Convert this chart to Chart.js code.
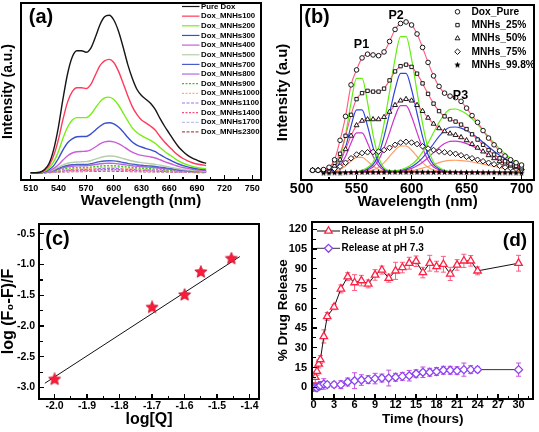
<!DOCTYPE html>
<html><head><meta charset="utf-8">
<script src="https://cdn.jsdelivr.net/npm/chart.js@4.4.1/dist/chart.umd.min.js"></script>
<style>
html,body{margin:0;padding:0;background:#fff;}
body{width:539px;height:432px;position:relative;overflow:hidden;}
canvas{position:absolute;display:block;}
</style></head><body>
<canvas id="ca" width="270" height="216" style="left:0;top:0;width:270px;height:216px"></canvas>
<canvas id="cb" width="269" height="216" style="left:270px;top:0;width:269px;height:216px"></canvas>
<canvas id="cc" width="270" height="216" style="left:0;top:216px;width:270px;height:216px"></canvas>
<canvas id="cd" width="269" height="216" style="left:270px;top:216px;width:269px;height:216px"></canvas>
<script>
// ---------------- DATA ----------------
// (a) emission spectra, wavelength (nm)
const wlA = [510,515,520,525,530,535,540,545,550,555,560,565,570,575,580,585,590,595,600,605,610,615,620,625,630,635,640,645,650,655,660,665,670,675,680,685,690,695,700];
const pureDox  = [0,0,0.3,2,6,15,29,47,63,73.5,77.5,77.5,76.5,79,86,94,99,100,97,90,80,69,60,53,49,46.5,44,40,34.5,29.5,25,20.5,16.5,13.5,11,9.3,8,6.8,6];
const mnhs100  = [0,0,0.2,1.5,4.5,11,21,34,45,51.5,54,54,53.5,56,62,68,71,72,70,64.5,57,49,42,37,33.5,31.5,29.5,27,23,19.5,16.5,13.5,11,9,7.5,6.3,5.5,5,4.5];
const mnhs200  = [0,0,0.1,1,3,7,13.5,22,29,33.5,35,35,35,37,41,45,47.5,48,46.5,43,38,33,28.5,25.5,23.5,22,20.5,18.5,16,13.5,11.5,9.5,7.5,6,5,4,3.3,2.8,2.5];
const mnhs300  = [0,0,0,0.6,2,4.5,9,14.5,19,21.5,22.8,23,23,24.5,27,29.5,31.3,31.7,31,29,26,22.5,19.5,17.5,16.3,15.3,14.5,13.3,11.5,9.8,8.3,6.8,5.5,4.5,3.7,3,2.5,2.1,1.8];
const mnhs400  = [0,0,0,0.4,1.2,2.7,5,8,10.8,12.5,13.3,13.5,13.6,14.5,16.3,18.3,19.6,20,19.6,18.5,16.8,14.8,13,11.8,11,10.5,10,9.3,8.2,7,6,5,4,3.3,2.7,2.2,1.8,1.5,1.3];
const mnhs500  = [0,0,0,0.3,1,2,3.5,5,6,6.5,6.8,6.9,7,7.6,8.6,9.6,10.3,10.6,10.4,9.8,9,8.2,7.4,6.8,6.4,6,5.7,5.3,4.8,4.2,3.6,3,2.5,2,1.7,1.4,1.2,1,0.9];
const mnhs700  = [0,0,0,0.2,0.8,1.6,2.7,3.8,4.6,5,5.2,5.3,5.3,5.7,6.4,7,7.4,7.6,7.5,7.1,6.5,5.9,5.4,5,4.7,4.4,4.2,3.9,3.5,3.1,2.7,2.3,1.9,1.6,1.3,1.1,0.9,0.8,0.7];
const mnhs800  = [0,0,0,0.2,0.6,1.3,2.2,3.1,3.8,4.1,4.3,4.4,4.4,4.7,5.2,5.7,5.9,6,5.9,5.6,5.2,4.8,4.4,4.1,3.8,3.6,3.4,3.1,2.8,2.5,2.2,1.9,1.6,1.3,1.1,0.9,0.8,0.7,0.6];
const mnhs900  = [0,0,0,0.1,0.4,1,1.6,2.3,2.8,3.1,3.2,3.3,3.3,3.5,3.9,4.2,4.4,4.5,4.4,4.2,3.9,3.6,3.3,3.1,2.9,2.7,2.5,2.3,2.1,1.9,1.7,1.4,1.2,1,0.8,0.7,0.6,0.5,0.5];
const mnhs1000 = [0,0,0,0.1,0.3,0.8,1.3,1.8,2.2,2.4,2.5,2.6,2.6,2.7,3,3.3,3.4,3.5,3.4,3.3,3,2.8,2.6,2.4,2.3,2.1,2,1.8,1.6,1.5,1.3,1.1,0.9,0.8,0.7,0.6,0.5,0.4,0.4];
const mnhs1100 = [0,0,0,0.1,0.3,0.6,1,1.4,1.7,1.9,2,2,2.1,2.2,2.4,2.6,2.7,2.8,2.7,2.6,2.4,2.2,2.1,1.9,1.8,1.7,1.6,1.4,1.3,1.2,1,0.9,0.7,0.6,0.5,0.5,0.4,0.3,0.3];
const mnhs1400 = [0,0,0,0.1,0.2,0.4,0.7,1,1.2,1.4,1.4,1.5,1.5,1.6,1.7,1.9,2,2,2,1.9,1.7,1.6,1.5,1.4,1.3,1.2,1.1,1,0.9,0.8,0.7,0.6,0.5,0.5,0.4,0.3,0.3,0.2,0.2];
const mnhs1700 = [0,0,0,0,0.1,0.3,0.5,0.7,0.9,1,1.1,1.1,1.1,1.2,1.3,1.4,1.5,1.5,1.5,1.4,1.3,1.2,1.1,1,1,0.9,0.8,0.8,0.7,0.6,0.5,0.5,0.4,0.3,0.3,0.2,0.2,0.2,0.1];
const mnhs2300 = [0,0,0,0,0.1,0.2,0.3,0.5,0.6,0.7,0.7,0.7,0.8,0.8,0.9,0.9,1,1,1,0.9,0.9,0.8,0.7,0.7,0.6,0.6,0.5,0.5,0.5,0.4,0.4,0.3,0.3,0.2,0.2,0.2,0.1,0.1,0.1];
const namesA = ['Pure Dox','Dox_MNHs100','Dox_MNHs200','Dox_MNHs300','Dox_MNHs400','Dox_MNHs500','Dox_MNHs700','Dox_MNHs800','Dox_MNHs900','Dox_MNHs1000','Dox_MNHs1100','Dox_MNHs1400','Dox_MNHs1700','Dox_MNHs2300'];
const ticksA = [510,540,570,600,630,660,690,720,750];

// (b) deconvoluted spectra
const wlB = [510,515,520,525,530,535,540,545,550,555,560,565,570,575,580,585,590,595,600,605,610,615,620,625,630,635,640,645,650,655,660,665,670,675,680,685,690,695,700];
const doxPure = [1,1,1.5,3,8,21,37,58,68,76,78.5,78,77.5,80,87,95,99,100,98,92,83,73,64,57,52.5,50.5,49.5,47,42.5,37.5,33,27.5,22.5,18,14,10.5,8,6,4.5];
const mnhs25  = [1,1,1.2,2.5,6,12,24,38,48.5,52.5,54,53.5,53.5,55.5,61,67,70.5,71.5,70,65.5,59,52,45.5,40.5,37,35,33.5,31.5,28.5,25,21.5,18,14.5,11.5,9,7,5,4,3];
const mnhs50  = [1,1,1,2,4,8,15,24,31,34,35,35,35,36.5,40,44.5,47.5,48.5,47.5,44.5,40.5,36,32,29,27,25.5,24.5,23,21,18.5,16,13.5,11,9,7,5.5,4,3,2];
const mnhs75  = [1,1,1,1.2,2,3.5,6,9,11.5,12.5,13,13.2,13.5,14.5,16,18,19.5,20,19.5,18.5,17,15.5,14.5,13.5,13,12.5,12,11,10,9,8,7,6,5,4,3,2.5,2,1.5];
const mnhs998 = [null,null,-0.8,-0.8,-0.7,-0.8,-0.6,-0.5,-0.5,-0.4,-0.4,-0.4,-0.4,-0.4,-0.3,-0.3,-0.3,-0.3,-0.3,-0.3,-0.3,-0.4,-0.4,-0.4,-0.4,-0.4,-0.4,-0.5,-0.5,-0.5,-0.5,-0.6,-0.6,-0.6,-0.7,-0.7,-0.7,-0.8,-0.8];
const namesB = ['Dox_Pure','MNHs_25%','MNHs_50%','MNHs_75%','MNHs_99.8%'];
// fitted component peaks P1, P2, P3
const compWl = [520,525,530,535,540,545,550,555,560,565,570,575,580,585,590,595,600,605,610,615,620,625,630,635,640,645,650,655,660,665,670,675,680,685,690,695,700];
const pureP1 = [0,0.7,2.6,9.8,24.7,46.2,62.4,62.4,46.2,24.7,9.8,2.6,0.7,0,0,0,0,0,0,0,0,0,0,0,0,0,0,0,0,0,0,0,0,0,0,0,0];
const pureP2 = [0,0,0,0,0,0,0,0.9,2.8,6.4,15.6,32.2,53.4,75.4,90.2,90.2,75.4,53.4,32.2,15.6,6.4,2.8,0.9,0,0,0,0,0,0,0,0,0,0,0,0,0,0];
const pureP3 = [0,0,0,0,0,0,0,0,0,0,0,0,0.3,0.6,1.3,2.6,4.8,8.2,13.1,19.2,26.2,33,38.5,41.6,41.9,40.7,38.5,35.4,31.7,27.6,23.4,19.2,15.4,12,9.1,6.7,4.8];
const p25P1 = [0,0.4,1.7,6.5,16.3,30.5,41.3,41.3,30.5,16.3,6.5,1.7,0.4,0,0,0,0,0,0,0,0,0,0,0,0,0,0,0,0,0,0,0,0,0,0,0,0];
const p25P2 = [0,0,0,0,0,0,0,0.7,2,4.7,11.4,23.5,38.9,54.9,65.7,65.7,54.9,38.9,23.5,11.4,4.7,2,0.7,0,0,0,0,0,0,0,0,0,0,0,0,0,0];
const p25P3 = [0,0,0,0,0,0,0,0,0,0,0,0,0.2,0.4,0.9,1.9,3.4,5.9,9.3,13.7,18.7,23.6,27.5,29.7,29.9,29.1,27.5,25.3,22.7,19.7,16.7,13.7,11,8.6,6.5,4.8,3.4];
const p50P1 = [0,0.3,1.1,4.1,10.3,19.2,25.9,25.9,19.2,10.3,4.1,1.1,0.3,0,0,0,0,0,0,0,0,0,0,0,0,0,0,0,0,0,0,0,0,0,0,0,0];
const p50P2 = [0,0,0,0,0,0,0,0.5,1.4,3.2,7.7,15.8,26.1,36.9,44.1,44.1,36.9,26.1,15.8,7.7,3.2,1.4,0.5,0,0,0,0,0,0,0,0,0,0,0,0,0,0];
const p50P3 = [0,0,0,0,0,0,0,0,0,0,0,0,0.1,0.3,0.6,1.3,2.3,4,6.4,9.4,12.8,16.1,18.8,20.3,20.4,19.9,18.8,17.3,15.5,13.5,11.4,9.4,7.5,5.9,4.4,3.3,2.3];
const p75P1 = [0,0.1,0.4,1.5,3.8,7.1,9.6,9.6,7.1,3.8,1.5,0.4,0.1,0,0,0,0,0,0,0,0,0,0,0,0,0,0,0,0,0,0,0,0,0,0,0,0];
const p75P2 = [0,0,0,0,0,0,0,0.2,0.5,1.2,3,6.1,10.2,14.4,17.2,17.2,14.4,10.2,6.1,3,1.2,0.5,0.2,0,0,0,0,0,0,0,0,0,0,0,0,0,0];
const p75P3 = [0,0,0,0,0,0,0,0,0,0,0,0,0,0.1,0.2,0.5,0.9,1.5,2.4,3.5,4.8,6.1,7.1,7.6,7.7,7.5,7.1,6.5,5.8,5.1,4.3,3.5,2.8,2.2,1.7,1.2,0.9];
const ticksB = [500,550,600,650,700];

// (c) double-log quenching plot
const logQ = [-2.0,-1.7,-1.6,-1.55,-1.456];
const logF = [-2.867,-1.697,-1.495,-1.122,-0.904];
const fitQ = [-2.03,-1.43];
const fitF = [-2.93,-0.87];
const ticksCx = [-2.0,-1.9,-1.8,-1.7,-1.6,-1.5,-1.4];
const ticksCy = [-3.0,-2.5,-2.0,-1.5,-1.0,-0.5];

// (d) drug release
const t50 = [0.25,0.5,0.75,1,1.5,2,3,4,5,6,7,8,9,10,11,12,13,14,15,16,17,18,19,20,21,22,23,24,30];
const rel50 = [7.6,12.1,17.7,21,38.6,53.8,60.9,74.7,84,79.5,81,78.5,85.3,89,82.8,88.4,90.9,94.2,95.7,87.1,94.2,91.7,93.4,86.1,92.9,96,96,88.4,94.2];
const err50 = [4,3,3,3,5,3,2,3,3,6,4,3,4,3,3,6.5,4,4.5,4,4,6,4,6,5,4,5,4,3,6];
const t73 = [0,0.25,0.5,0.75,1,1.5,2,3,4,5,6,7,8,9,10,11,12,13,14,15,16,17,18,19,20,21,22,23,24,30];
const rel73 = [0,0,-0.5,0.8,1.3,2.5,2,2,2,4,5,5.5,5.8,6.6,7,7,7.6,8.3,8.8,10.3,11.4,11.4,12,12.9,12.9,12.6,13.4,13.4,13.4,13.4];
const err73 = [2,2,2,2,3,4,2,2,3,3,6,4,3,4,3,6,3,3,4,3,4,3,3,3,3,3,5,3,2,5];
const ticksDx = [0,3,6,9,12,15,18,21,24,27,30];
const ticksDy = [0,15,30,45,60,75,90,105,120];

// ---------------- HELPERS ----------------
const FONT = "'Liberation Sans', Arial, Helvetica, sans-serif";
const bf = s => `bold ${s}px ${FONT}`;
const pts = (xs, ys) => xs.map((x, i) => ({x, y: ys[i]}));
function mids(arr) {
  const st = arr[1] - arr[0], r = [arr[0] - st / 2];
  for (let i = 0; i < arr.length - 1; i++) r.push((arr[i] + arr[i + 1]) / 2);
  r.push(arr[arr.length - 1] + st / 2);
  return r;
}
function starCanvas(size, fill, stroke, lw) {
  const c = document.createElement('canvas'); c.width = c.height = size;
  const g = c.getContext('2d'); const cx = size / 2, cy = size / 2, R = size / 2 - lw / 2 - 0.2, r = R * 0.45;
  g.beginPath();
  for (let k = 0; k < 10; k++) { const a = -Math.PI / 2 + k * Math.PI / 5; const rr = k % 2 ? r : R; g.lineTo(cx + rr * Math.cos(a), cy + rr * Math.sin(a)); }
  g.closePath(); g.fillStyle = fill; g.fill();
  if (lw > 0) { g.strokeStyle = stroke; g.lineWidth = lw; g.stroke(); }
  return c;
}
function axis(o) {
  return {
    type: 'linear', position: o.pos, min: o.min, max: o.max, display: true,
    grid: {display: false, drawTicks: false}, border: {display: false},
    afterBuildTicks: s => { s.ticks = o.ticks.map(v => ({value: v})); },
    ticks: {display: o.showTicks !== false, autoSkip: false, maxRotation: 0, minRotation: 0, padding: o.tickPad || 0, color: '#000',
      font: {family: FONT, size: o.tickSize || 10, weight: 'bold', lineHeight: 1}, callback: o.fmt || (v => String(v))},
    title: {display: !!o.title, text: o.title, color: '#000', font: {family: FONT, size: o.titleSize || 14, weight: 'bold', lineHeight: 1},
      padding: {top: o.titlePad || 0, bottom: o.titlePad || 0}},
    afterFit: s => {
      if (o.pos === 'bottom') s.height = o.size; else s.width = o.size;
      s.paddingLeft = 0; s.paddingRight = 0; s.paddingTop = 0; s.paddingBottom = 0;
    }
  };
}
// plot frame + inward tick marks, placed from the chart's own chart area and scales
function frameDom(chart, axes, bw) {
  const cv = chart.canvas, ox = cv.offsetLeft, oy = cv.offsetTop, a = chart.chartArea;
  const mk = (l, t, w, h, css) => {
    const d = document.createElement('div');
    d.style.cssText = `position:absolute;left:${l}px;top:${t}px;width:${w}px;height:${h}px;pointer-events:none;` + (css || 'background:#000;');
    document.body.appendChild(d);
  };
  mk(ox + a.left - bw / 2, oy + a.top - bw / 2, a.right - a.left + bw, a.bottom - a.top + bw,
     `box-sizing:border-box;border:${bw}px solid #000;background:transparent;`);
  axes.forEach(ax => {
    const s = chart.scales[ax.id];
    const vals = ax.major.map(v => [v, ax.majorLen]).concat(mids(ax.major).map(v => [v, ax.minorLen]));
    vals.forEach(([v, len]) => {
      const p = s.getPixelForValue(v);
      if (ax.id === 'x') {
        if (p < a.left + 2 || p > a.right - 2) return;
        mk(ox + p - 0.6, oy + a.bottom - bw / 2 - len, 1.2, len);
      } else {
        if (p < a.top + 2 || p > a.bottom - 2) return;
        mk(ox + a.left + bw / 2, oy + p - 0.6, len, 1.2);
      }
    });
  });
}
// legend + free texts
function decor(cfg) {
  return {
    id: 'decor',
    afterDraw(chart) {
      const ctx = chart.ctx, xs = chart.scales.x, ys = chart.scales.y;
      const o = cfg.legend;
      if (o) {
        ctx.save(); ctx.font = o.font; ctx.textBaseline = 'middle'; ctx.textAlign = 'left';
        o.items.forEach((it, i) => {
          const y = o.y + i * o.step;
          if (it.lineColor) {
            ctx.strokeStyle = it.lineColor; ctx.lineWidth = it.lineWidth || 1.5; ctx.setLineDash(it.dash || []);
            ctx.beginPath(); ctx.moveTo(o.x0, y); ctx.lineTo(o.x1, y); ctx.stroke(); ctx.setLineDash([]);
          }
          if (it.point) {
            ctx.fillStyle = it.point.fill || '#fff'; ctx.strokeStyle = it.point.stroke || '#000'; ctx.lineWidth = it.point.borderWidth || 1;
            Chart.helpers.drawPoint(ctx, {pointStyle: it.point.pointStyle, radius: it.point.radius, rotation: 0, borderWidth: it.point.borderWidth || 1}, (o.x0 + o.x1) / 2, y);
          }
          ctx.fillStyle = '#000'; ctx.fillText(it.text, o.tx, y);
        });
        ctx.restore();
      }
      ctx.save(); ctx.fillStyle = '#000'; ctx.textAlign = 'center'; ctx.textBaseline = 'middle';
      (cfg.texts || []).forEach(it => {
        let x = it.px, y = it.py;
        if (it.dx !== undefined) { x = xs.getPixelForValue(it.dx); y = ys.getPixelForValue(it.dy); }
        ctx.font = it.font; ctx.fillText(it.text, x, y);
      });
      ctx.restore();
    }
  };
}
const errPlug = {
  id: 'errbars',
  beforeDatasetsDraw(chart) {
    const ctx = chart.ctx, ys = chart.scales.y;
    chart.data.datasets.forEach((ds, di) => {
      if (!ds.errors) return;
      const meta = chart.getDatasetMeta(di);
      ctx.save(); ctx.strokeStyle = ds.errorColor; ctx.lineWidth = 1;
      meta.data.forEach((pt, i) => {
        const v = ds.data[i].y, e = ds.errors[i];
        const y1 = ys.getPixelForValue(v + e), y2 = ys.getPixelForValue(v - e), x = pt.x;
        ctx.beginPath(); ctx.moveTo(x, y1); ctx.lineTo(x, y2);
        ctx.moveTo(x - 2.5, y1); ctx.lineTo(x + 2.5, y1); ctx.moveTo(x - 2.5, y2); ctx.lineTo(x + 2.5, y2); ctx.stroke();
      });
      ctx.restore();
    });
  }
};
Chart.defaults.font.family = FONT;
const base = () => ({responsive: false, animation: false, devicePixelRatio: 1, events: []});
const noPlug = () => ({legend: {display: false}, tooltip: {enabled: false}});

// ---------------- (a) ----------------
const seriesA = [pureDox, mnhs100, mnhs200, mnhs300, mnhs400, mnhs500, mnhs700, mnhs800, mnhs900, mnhs1000, mnhs1100, mnhs1400, mnhs1700, mnhs2300];
const colorsA = ['#151515', '#ff3a5c', '#77ee11', '#3a4fd0', '#cc5fd8', '#b5cfa8', '#4b5cc8', '#b866e0', '#33cc11', '#ffb070', '#a070e8', '#ff4a80', '#c0c0e8', '#b05050'];
const dashA = [[], [], [], [], [], [], [], [], [2, 1.5], [2, 1.5], [3, 1.5], [2, 1.5], [3, 1.5], [3, 1.5]];
const chartA = new Chart(document.getElementById('ca'), {
  type: 'line',
  data: {datasets: seriesA.map((s, i) => ({label: namesA[i], data: pts(wlA, s), borderColor: colorsA[i], borderWidth: 1.4, borderDash: dashA[i], pointRadius: 0, cubicInterpolationMode: 'monotone'}))},
  options: Object.assign(base(), {
    layout: {padding: {left: 0, top: 3, right: 9, bottom: 0}},
    scales: {
      x: axis({pos: 'bottom', min: 499.5, max: 759.4, ticks: ticksA, tickSize: 9, tickPad: 4.5, title: 'Wavelength (nm)', titleSize: 15, titlePad: 7.5, size: 36}),
      y: axis({pos: 'left', min: -4.65, max: 107.8, ticks: [0, 50, 100], showTicks: false, title: 'Intensity (a.u.)', titleSize: 14, titlePad: 1.3, size: 21})
    },
    plugins: noPlug()
  }),
  plugins: [decor({
    legend: {x0: 182, x1: 199.5, tx: 201, y: 6.5, step: 9.65, font: bf(7.8),
      items: namesA.map((n, i) => ({text: n, lineColor: colorsA[i], lineWidth: 1.2, dash: dashA[i]}))},
    texts: [{text: '(a)', px: 41, py: 17, font: bf(20)}]
  })]
});
frameDom(chartA, [{id: 'x', major: ticksA, majorLen: 4, minorLen: 2.5}], 2);

// ---------------- (b) ----------------
const starSmall = starCanvas(7, '#000', '#000', 0);
const markerB = [
  {style: 'circle', r: 2.3}, {style: 'rect', r: 2.4}, {style: 'triangle', r: 2.8}, {style: 'rectRot', r: 2.8}, {style: starSmall, r: 3}
];
const seriesB = [doxPure, mnhs25, mnhs50, mnhs75, mnhs998];
const comps = [
  [pureP1, '#66ee11'], [pureP2, '#66ee11'], [pureP3, '#66ee11'],
  [p25P1, '#3344dd'], [p25P2, '#3344dd'], [p25P3, '#3344dd'],
  [p50P1, '#cc33cc'], [p50P2, '#cc33cc'], [p50P3, '#cc33cc'],
  [p75P1, '#ff9f66'], [p75P2, '#ff9f66'], [p75P3, '#ff9f66']
];
const dsB = seriesB.map((s, i) => ({
  label: namesB[i], data: pts(wlB, s), showLine: true, borderColor: '#ff5a7e', borderWidth: 1.1, cubicInterpolationMode: 'monotone',
  pointStyle: markerB[i].style, pointRadius: markerB[i].r, pointBorderColor: '#000', pointBackgroundColor: '#fff', pointBorderWidth: 0.9, order: 0
})).concat(comps.map(c => ({data: pts(compWl, c[0]), borderColor: c[1], borderWidth: 1.2, pointRadius: 0, cubicInterpolationMode: 'monotone', order: 1})));
const chartB = new Chart(document.getElementById('cb'), {
  type: 'line',
  data: {datasets: dsB},
  options: Object.assign(base(), {
    layout: {padding: {left: 0, top: 3, right: 4, bottom: 0}},
    scales: {
      x: axis({pos: 'bottom', min: 499.5, max: 711.4, ticks: ticksB, tickSize: 14, tickPad: 2, title: 'Wavelength (nm)', titleSize: 15, titlePad: 7, size: 36}),
      y: axis({pos: 'left', min: -5.5, max: 111.4, ticks: [0, 50, 100], showTicks: false, title: 'Intensity (a.u)', titleSize: 15, titlePad: 5.8, size: 31})
    },
    plugins: noPlug()
  }),
  plugins: [decor({
    legend: {x0: 184, x1: 191, tx: 201.5, y: 11.8, step: 13.3, font: bf(10.2),
      items: namesB.map((n, i) => ({text: n, point: {pointStyle: markerB[i].style, radius: markerB[i].r, borderWidth: 0.9, fill: '#fff', stroke: '#000'}}))},
    texts: [
      {text: '(b)', px: 47, py: 17, font: bf(20)},
      {text: 'P1', dx: 554.5, dy: 84.8, font: bf(12.5)},
      {text: 'P2', dx: 586, dy: 104.6, font: bf(12.5)},
      {text: 'P3', dx: 644.5, dy: 51, font: bf(12.5)}
    ]
  })]
});
frameDom(chartB, [{id: 'x', major: ticksB, majorLen: 4, minorLen: 2.5}], 2);

// ---------------- (c) ----------------
const starRed = starCanvas(14, '#ff1a3a', '#c0102a', 0.8);
const chartC = new Chart(document.getElementById('cc'), {
  type: 'line',
  data: {datasets: [
    {data: pts(logQ, logF), showLine: false, pointStyle: starRed, pointRadius: 7, order: 0},
    {data: pts(fitQ, fitF), borderColor: '#111', borderWidth: 1, pointRadius: 0, order: 1}
  ]},
  options: Object.assign(base(), {
    layout: {padding: {left: 0, top: 5, right: 11, bottom: 0}},
    scales: {
      x: axis({pos: 'bottom', min: -2.048, max: -1.371, ticks: ticksCx, tickSize: 10.5, tickPad: 1.8, fmt: v => v.toFixed(1), title: 'log[Q]', titleSize: 16, titlePad: 4.5, size: 33}),
      y: axis({pos: 'left', min: -3.186, max: -0.34, ticks: ticksCy, tickSize: 10.5, tickPad: 4, fmt: v => v.toFixed(1), title: 'log (F\u2080-F)/F', titleSize: 16, titlePad: 0.3, size: 39})
    },
    plugins: noPlug()
  }),
  plugins: [decor({
    texts: [{text: '(c)', px: 57.5, py: 23.5, font: bf(20)}]
  })]
});
frameDom(chartC, [{id: 'x', major: ticksCx, majorLen: 4, minorLen: 2.5}, {id: 'y', major: ticksCy, majorLen: 4, minorLen: 2.5}], 2);

// ---------------- (d) ----------------
const chartD = new Chart(document.getElementById('cd'), {
  type: 'line',
  data: {datasets: [
    {label: 'Release at pH 5.0', data: pts(t50, rel50), errors: err50, errorColor: '#ff5c80', borderColor: '#111', borderWidth: 1,
      pointStyle: 'triangle', pointRadius: 4.3, pointBorderColor: '#ff2244', pointBackgroundColor: '#fff', pointBorderWidth: 1.3},
    {label: 'Release at pH 7.3', data: pts(t73, rel73), errors: err73, errorColor: '#c64ee0', borderColor: '#333', borderWidth: 1,
      pointStyle: 'rectRot', pointRadius: 4, pointBorderColor: '#8a44f0', pointBackgroundColor: '#fff', pointBorderWidth: 1.3}
  ]},
  options: Object.assign(base(), {
    layout: {padding: {left: 0, top: 5, right: 3, bottom: 0}},
    scales: {
      x: axis({pos: 'bottom', min: -0.23, max: 32.17, ticks: ticksDx, tickSize: 11, tickPad: 0.5, title: 'Time (hours)', titleSize: 13.5, titlePad: 6, size: 33}),
      y: axis({pos: 'left', min: -8.9, max: 125.8, ticks: ticksDy, tickSize: 11, tickPad: 5, title: '% Drug Release', titleSize: 13.5, titlePad: 6.5, size: 42})
    },
    plugins: noPlug()
  }),
  plugins: [errPlug, decor({
    legend: {x0: 47, x1: 70, tx: 71.5, y: 15, step: 17.3, font: bf(10),
      items: [
        {text: 'Release at pH 5.0', lineColor: '#111', lineWidth: 1, point: {pointStyle: 'triangle', radius: 4.3, borderWidth: 1.3, fill: '#fff', stroke: '#ff2244'}},
        {text: 'Release at pH 7.3', lineColor: '#333', lineWidth: 1, point: {pointStyle: 'rectRot', radius: 4, borderWidth: 1.3, fill: '#fff', stroke: '#8a44f0'}}
      ]},
    texts: [{text: '(d)', px: 245, py: 25, font: bf(19)}]
  })]
});
frameDom(chartD, [{id: 'x', major: ticksDx, majorLen: 4, minorLen: 2.5}, {id: 'y', major: ticksDy, majorLen: 4, minorLen: 2.5}], 2);
</script>
</body></html>
